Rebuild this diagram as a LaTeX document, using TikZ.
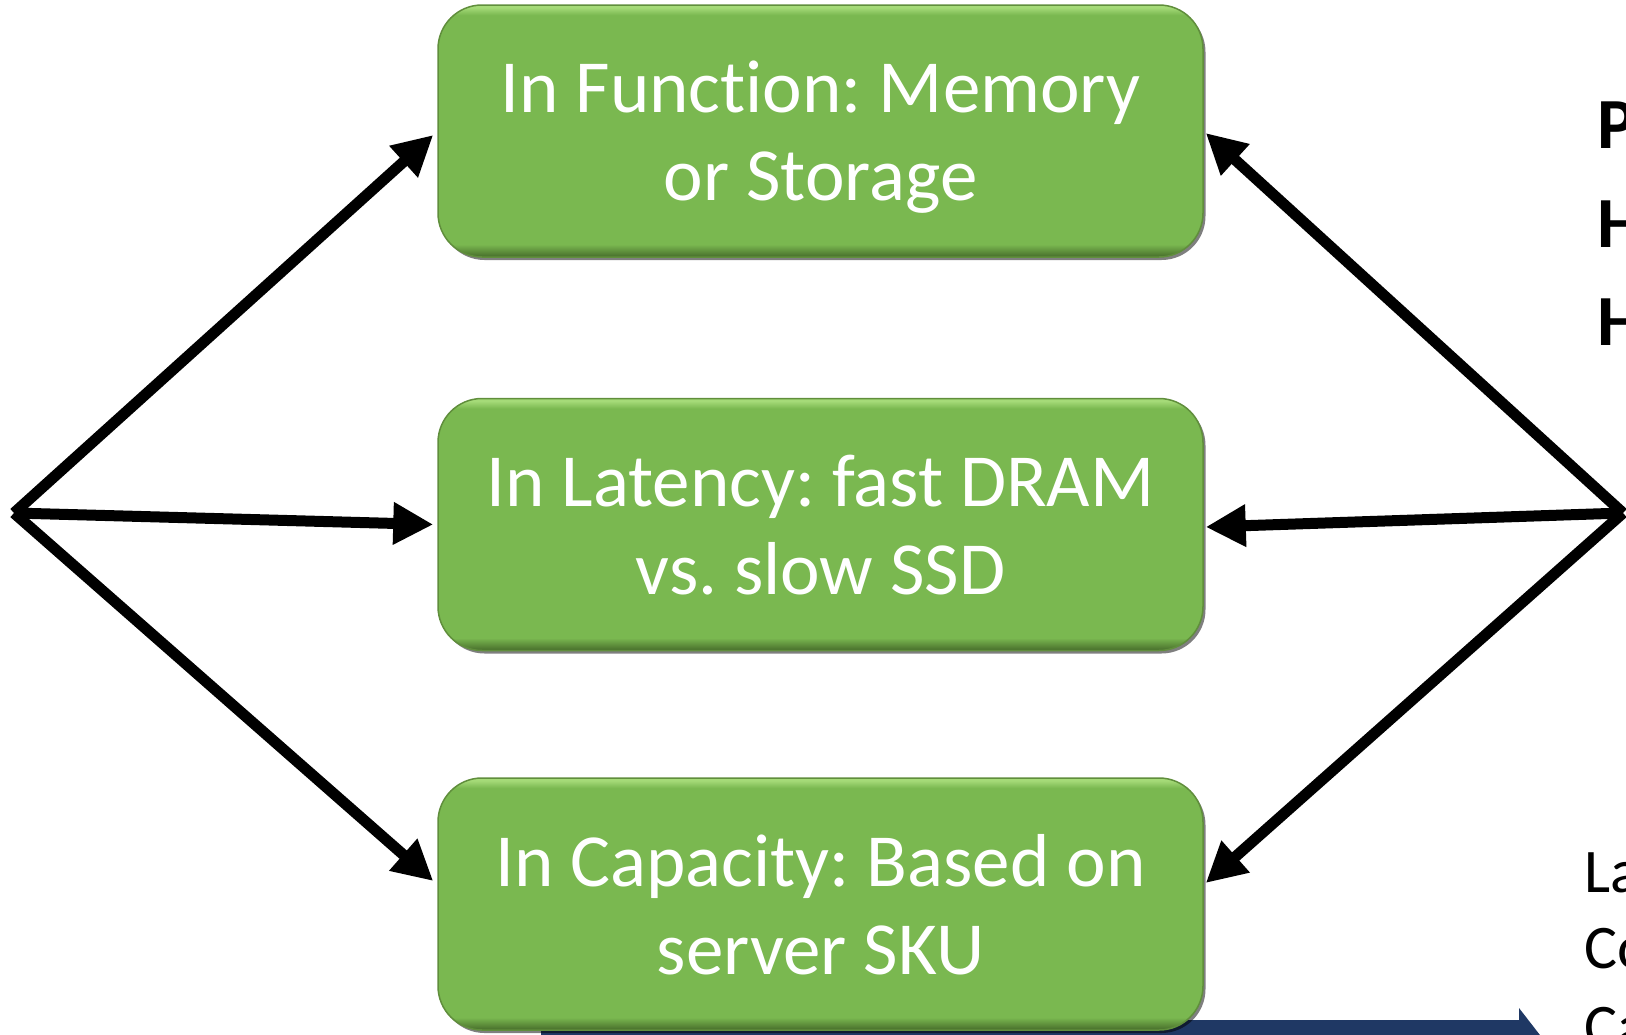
\documentclass[tikz,border=0pt]{standalone}
\usepackage{fontspec}
\setmainfont[Ligatures=NoCommon]{Carlito}
\usetikzlibrary{arrows.meta,shadows,calc}
\definecolor{boxgreen}{RGB}{122,184,80}
\definecolor{boxlight}{RGB}{165,218,120}
\definecolor{boxdark}{RGB}{70,108,42}
\definecolor{boxedge}{RGB}{96,142,60}
\definecolor{navy}{RGB}{31,56,100}
% green fill with a light rim on top and a darker rim at the bottom
\pgfdeclareverticalshading{greenbox}{100bp}{color(0bp)=(boxdark); color(25bp)=(boxdark); color(27.5bp)=(boxgreen); color(73bp)=(boxgreen); color(74.5bp)=(boxlight); color(100bp)=(boxlight)}

\begin{document}
\frenchspacing
\begin{tikzpicture}[x=1pt,y=-1pt,
  topic/.style={rounded corners=44pt, draw=boxedge, line width=1.5pt,
    shade, shading=greenbox, minimum width=765pt, minimum height=252pt,
    text=white, align=center, font=\fontsize{75}{88}\selectfont, inner sep=0pt,
    text depth=0pt,
    drop shadow={shadow xshift=2.5pt, shadow yshift=-3pt, opacity=0.5, fill=black}},
  link/.style={line width=11pt, -{Triangle[length=40pt,width=40pt]}},
  sidebold/.style={anchor=base west, inner sep=0pt, font=\bfseries\fontsize{72}{86}\selectfont},
  sidetext/.style={anchor=base west, inner sep=0pt, font=\fontsize{62}{74}\selectfont}
]
\useasboundingbox (0,0) rectangle (1626,1034);
\clip (0,0) rectangle (1626,1034);

% dark blue block arrow along the bottom edge
\fill[navy] (541,1020) -- (1519,1020) -- (1519,1008) -- (1550,1048) -- (1519,1088)
  -- (1519,1076) -- (541,1076) -- cycle;

% the three green topic boxes
\node[topic] (fn)  at (820.5,131)   {In Function: Memory\\or Storage};
\node[topic] (lat) at (820.5,524.5) {In Latency: fast DRAM\\vs. slow SSD};
\node[topic] (cap) at (820.5,904)   {In Capacity: Based on\\server SKU};

% hubs on both sides
\coordinate (hl) at (14,513);
\coordinate (hr) at (1623,513);

\draw[link] (hl) -- ($(fn.west)+(-4,4)$);
\draw[link] (hl) -- ($(lat.west)+(-4,0)$);
\draw[link] (hl) -- ($(cap.west)+(-4,-23)$);

\draw[link] (hr) -- ($(fn.east)+(2,2)$);
\draw[link] (hr) -- ($(lat.east)+(2,2.5)$);
\draw[link] (hr) -- ($(cap.east)+(2,-21)$);

% text running off the right edge
\node[sidebold] (t1) at (1597,148) {P};
\node[sidebold] (t2) at (1597,247) {H};
\node[sidebold] (t3) at (1597,345) {H};
\node[sidetext] (t4) at (1584,892)  {La};
\node[sidetext] (t5) at (1584,968)  {Co};
\node[sidetext] (t6) at (1584,1047) {Ca};
\end{tikzpicture}
\end{document}
